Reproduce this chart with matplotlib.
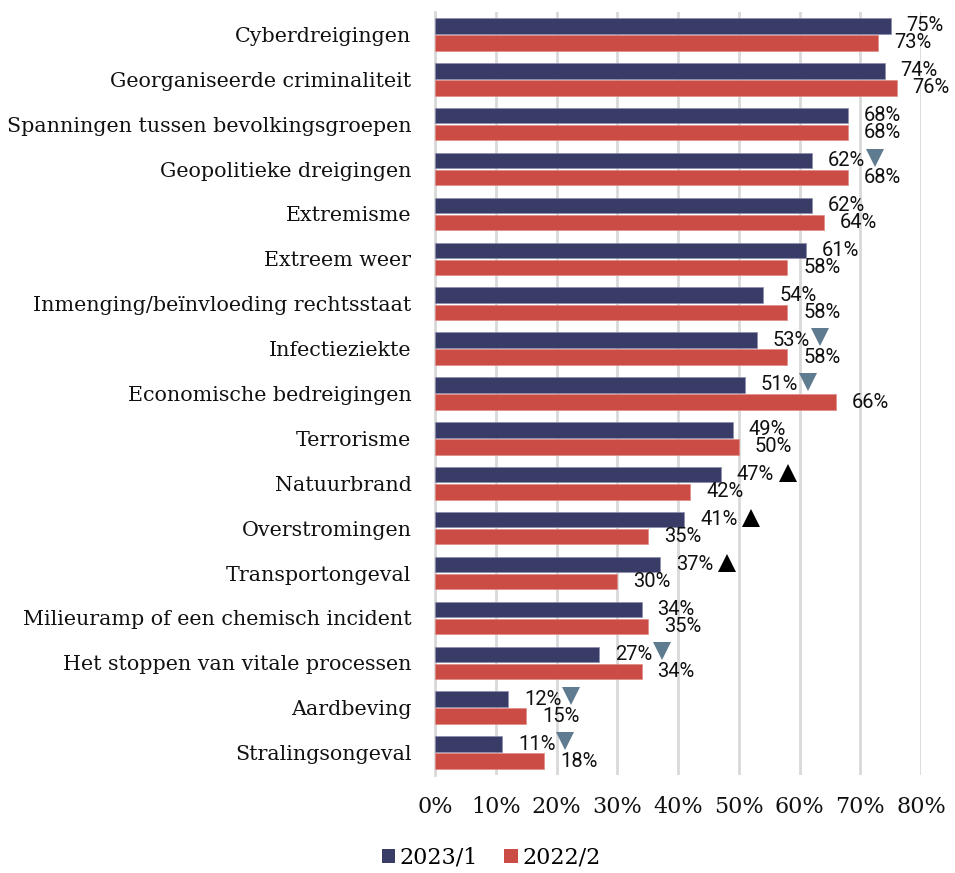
import matplotlib
matplotlib.use("Agg")
import matplotlib.pyplot as plt
import matplotlib.transforms as mtransforms
from matplotlib.patches import Patch
import numpy as np

categories = [
    "Cyberdreigingen",
    "Georganiseerde criminaliteit",
    "Spanningen tussen bevolkingsgroepen",
    "Geopolitieke dreigingen",
    "Extremisme",
    "Extreem weer",
    "Inmenging/beïnvloeding rechtsstaat",
    "Infectieziekte",
    "Economische bedreigingen",
    "Terrorisme",
    "Natuurbrand",
    "Overstromingen",
    "Transportongeval",
    "Milieuramp of een chemisch incident",
    "Het stoppen van vitale processen",
    "Aardbeving",
    "Stralingsongeval",
]
values_2023_1 = [75, 74, 68, 62, 62, 61, 54, 53, 51, 49, 47, 41, 37, 34, 27, 12, 11]
values_2022_2 = [73, 76, 68, 68, 64, 58, 58, 58, 66, 50, 42, 35, 30, 35, 34, 15, 18]
# trend markers next to the 2023/1 value: 'down', 'up' or None
trend = [None, None, None, "down", None, None, None, "down", "down", None,
         "up", "up", "up", None, "down", "down", "down"]
series_names = ["2023/1", "2022/2"]
xticks = [0, 10, 20, 30, 40, 50, 60, 70, 80]
xtick_labels = ["0%", "10%", "20%", "30%", "40%", "50%", "60%", "70%", "80%"]

BLUE = "#393c67"
RED = "#cb4c44"
DOWN_C = "#5f7b8f"
UP_C = "#000000"
GRID = "#d9d9d9"
SERIF = ["DejaVu Serif"]
SANS = ["Roboto", "DejaVu Sans"]

fig = plt.figure(figsize=(9.55, 8.73), dpi=100)
ax = fig.add_axes([435 / 955, 1 - 775 / 873, (921 - 435) / 955, (775 - 12) / 873])

n = len(categories)
y = np.arange(n)
h = 0.345
off = 0.19
ax.barh(y - off, [v / 100 for v in values_2023_1], height=h, color=BLUE,
        edgecolor="#8a8cae", linewidth=0.5, zorder=3)
ax.barh(y + off, [v / 100 for v in values_2022_2], height=h, color=RED,
        edgecolor="#e08a84", linewidth=0.5, zorder=3)

lab_off = mtransforms.ScaledTranslation(16 / 100, 0, fig.dpi_scale_trans)
for i in range(n):
    ax.text(values_2023_1[i] / 100, y[i] - off, f"{values_2023_1[i]}%",
            transform=ax.transData + lab_off, ha="left", va="center",
            fontsize=14.5, family=SANS, color="#111111", clip_on=False, zorder=5)
    ax.text(values_2022_2[i] / 100, y[i] + off, f"{values_2022_2[i]}%",
            transform=ax.transData + lab_off, ha="left", va="center",
            fontsize=14.5, family=SANS, color="#111111", clip_on=False, zorder=5)
    t = trend[i]
    if t is not None:
        dx = 63 if t == "down" else 67
        mk_off = mtransforms.ScaledTranslation(dx / 100, 3 / 100 if t == "down" else 2 / 100,
                                               fig.dpi_scale_trans)
        ax.plot([values_2023_1[i] / 100], [y[i] - off], marker="v" if t == "down" else "^",
                markersize=13.5, color=DOWN_C if t == "down" else UP_C,
                markeredgewidth=0, transform=ax.transData + mk_off,
                clip_on=False, zorder=6, linestyle="none")

ax.set_xlim(0, 0.8)
ax.set_ylim(n - 0.5, -0.5)
ax.set_yticks(y)
ax.set_yticklabels(categories, family=SERIF, fontsize=14.9, color="#111111")
ax.set_xticks([v / 100 for v in xticks])
ax.set_xticklabels(xtick_labels, family=SERIF, fontsize=16, color="#111111")
ax.tick_params(axis="y", length=0, pad=17)
ax.tick_params(axis="x", length=0, pad=15)
ax.grid(axis="x", color=GRID, linewidth=2, zorder=0)
ax.set_axisbelow(True)
for s in ["top", "right", "bottom"]:
    ax.spines[s].set_visible(False)
ax.spines["left"].set_color(GRID)
ax.spines["left"].set_linewidth(2)

handles = [Patch(facecolor=BLUE, edgecolor="none"), Patch(facecolor=RED, edgecolor="none")]
fig.legend(handles, series_names, loc="center", bbox_to_anchor=(491 / 955, 1 - 858 / 873),
           ncol=2, frameon=False, prop={"family": SERIF, "size": 16},
           handlelength=0.6, handleheight=0.6, handletextpad=0.2, columnspacing=1.2)

fig.savefig("out.png", dpi=100)
